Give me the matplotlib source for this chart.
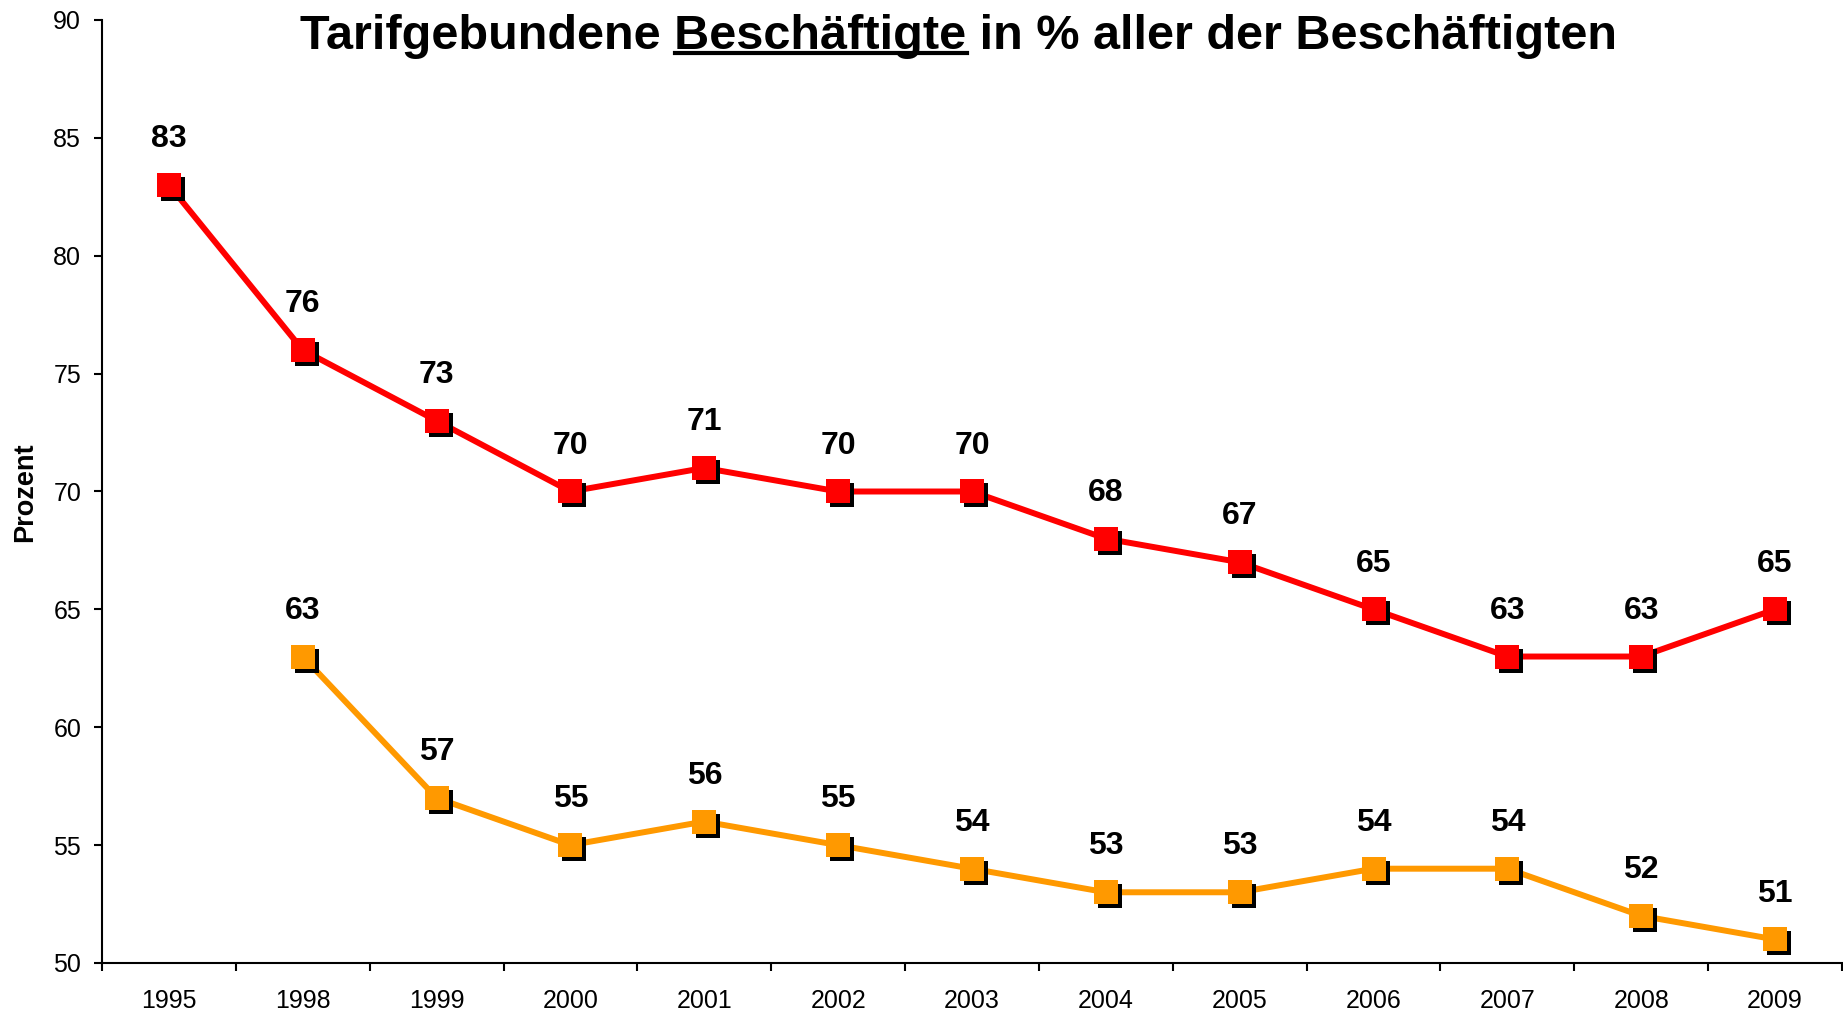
import numpy as np
import matplotlib
matplotlib.use("Agg")
import matplotlib.pyplot as plt
from matplotlib import transforms

plt.rcParams['font.family'] = ['Liberation Sans', 'DejaVu Sans']

years = ["1995", "1998", "1999", "2000", "2001", "2002", "2003",
         "2004", "2005", "2006", "2007", "2008", "2009"]
red_values = [83, 76, 73, 70, 71, 70, 70, 68, 67, 65, 63, 63, 65]
orange_values = [np.nan, 63, 57, 55, 56, 55, 54, 53, 53, 54, 54, 52, 51]
yticks = [50, 55, 60, 65, 70, 75, 80, 85, 90]

title_pre = "Tarifgebundene "
title_ul = "Beschäftigte"
title_post = " in % aller der Beschäftigten"

RED = "#FF0000"
ORANGE = "#FF9900"

W, H = 1843, 1016
fig = plt.figure(figsize=(W / 100, H / 100), dpi=100)
ax = fig.add_axes([102 / W, 1 - 963 / H, (1842 - 102) / W, (963 - 20) / H])

x = np.arange(len(years))
shadow = transforms.offset_copy(ax.transData, fig=fig, x=4, y=-4, units='dots')

for vals, col in [(red_values, RED), (orange_values, ORANGE)]:
    v = np.array(vals, dtype=float)
    ax.plot(x, v, color=col, lw=4.3, zorder=2, solid_capstyle='butt')
    ax.plot(x, v, ls='none', marker='s', ms=17.3, mfc='black', mec='black',
            mew=0, transform=shadow, zorder=3)
    ax.plot(x, v, ls='none', marker='s', ms=17.3, mfc=col, mec=col,
            mew=0, zorder=4)
    for xi, vi in zip(x, v):
        if np.isnan(vi):
            continue
        ax.annotate(f"{int(vi)}", (xi, vi), xytext=(0, 33),
                    textcoords='offset points', ha='center', va='center',
                    fontsize=23, fontweight='bold', zorder=5)

ax.set_xlim(-0.5, len(years) - 0.5)
ax.set_ylim(50, 90)
ax.set_yticks(yticks)
ax.set_yticklabels([str(t) for t in yticks])
ax.set_xticks(x)
ax.set_xticklabels(years)
ax.set_xticks(np.arange(-0.5, len(years)), minor=True)

ax.tick_params(axis='x', which='major', length=0, pad=19, labelsize=18)
ax.tick_params(axis='x', which='minor', length=6, width=1.5, direction='out')
ax.tick_params(axis='y', which='major', length=6, width=1.5, direction='out',
               pad=9, labelsize=18)

for s in ['top', 'right']:
    ax.spines[s].set_visible(False)
for s in ['left', 'bottom']:
    ax.spines[s].set_linewidth(1.5)
for ln in ax.lines:
    ln.set_clip_on(False)

fig.text(25 / W, 1 - 492 / H, "Prozent", rotation=90, ha='center', va='center',
         fontsize=19.5, fontweight='bold')

# Title with underlined word
full_title = title_pre + title_ul + title_post
tkw = dict(fontsize=35, fontweight='bold')
t = fig.text(959 / W, 1 - 49 / H, full_title, ha='center', va='baseline', **tkw)
fig.canvas.draw()
r = fig.canvas.get_renderer()
bb = t.get_window_extent(r)

def width_of(s):
    tmp = fig.text(0, 0, s, **tkw)
    w = tmp.get_window_extent(r).width
    tmp.remove()
    return w

w_x = width_of("x")
w_pre = width_of(title_pre + "x") - w_x
w_pre_ul = width_of(title_pre + title_ul)
x0 = bb.x0 + w_pre
x1 = bb.x0 + w_pre_ul
y_ul = (1 - 53 / H) * H
fig.add_artist(plt.Line2D([x0 / W, x1 / W], [y_ul / H, y_ul / H],
                          transform=fig.transFigure, color='black', lw=3))

fig.savefig("out.png", dpi=100)
